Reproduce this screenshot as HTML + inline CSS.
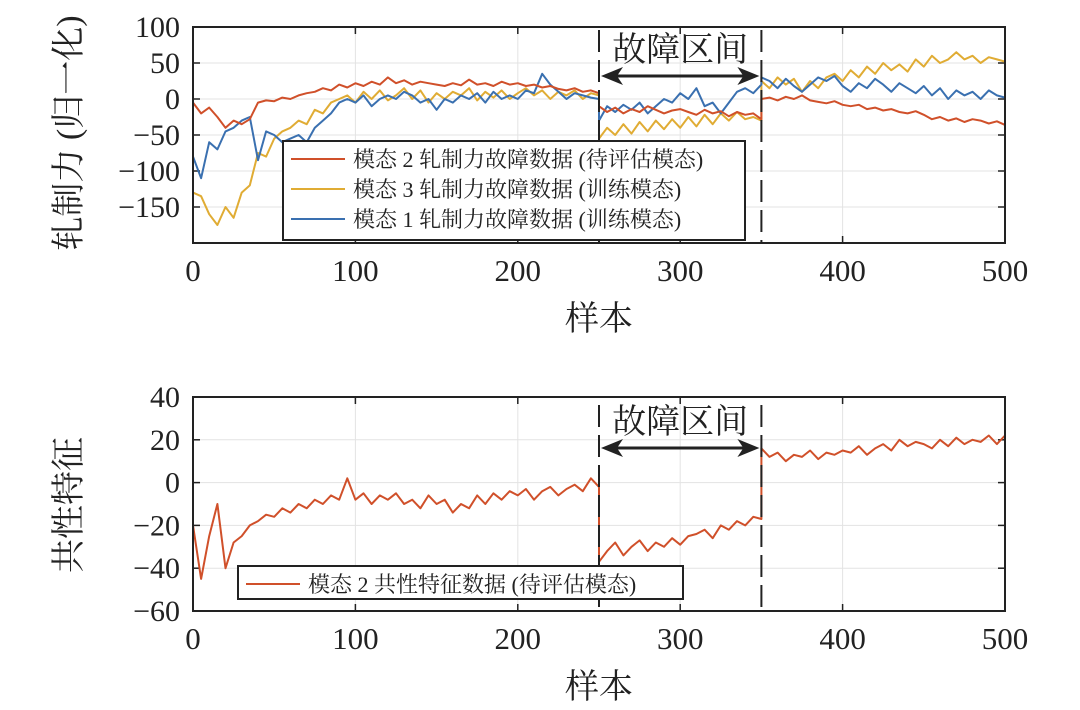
<!DOCTYPE html>
<html><head><meta charset="utf-8"><style>
body{margin:0;background:#fff}
svg text{font-family:"Liberation Serif","Noto Serif CJK SC",serif;fill:#222}
</style></head><body>
<svg id="fig" width="1080" height="705" viewBox="0 0 1080 705" xmlns="http://www.w3.org/2000/svg"></svg>
<script>
// ---- data (step 5 samples) ----
const xTicks=[0,100,200,300,400,500];
const topYTicks=[100,50,0,-50,-100,-150];
const botYTicks=[40,20,0,-20,-40,-60];
const faultBounds=[250,350];
const m2Pre=[-5,-20,-12,-25,-40,-30,-35,-28,-5,-2,-3,2,0,5,8,10,15,12,20,16,22,18,24,20,30,22,26,20,24,22,20,18,22,19,27,20,22,18,24,20,22,18,20,16,18,14,12,15,10,12,8];
const m2Fault=[-10,-18,-12,-20,-14,-18,-10,-15,-20,-16,-14,-18,-22,-15,-20,-17,-24,-18,-22,-20,-28];
const m2Post=[0,2,-2,3,0,5,-2,-4,-6,-3,-8,-10,-8,-14,-12,-16,-14,-18,-20,-17,-22,-28,-25,-30,-27,-32,-28,-30,-34,-31,-36];
const m3Pre=[-130,-135,-160,-175,-150,-165,-130,-120,-75,-80,-55,-45,-40,-30,-35,-15,-20,-5,0,5,-5,10,0,12,-2,5,15,0,12,-5,8,0,10,5,15,-2,10,2,12,0,8,15,5,12,0,10,5,12,0,8,5];
const m3Fault=[-55,-40,-50,-35,-48,-32,-45,-30,-42,-28,-40,-25,-38,-22,-35,-20,-30,-18,-28,-25,-30];
const m3Post=[25,15,30,20,28,10,25,15,30,35,25,40,30,45,35,50,40,48,38,55,45,60,50,55,65,55,60,50,58,55,52];
const m1Pre=[-80,-110,-60,-70,-45,-40,-30,-25,-85,-45,-50,-60,-55,-50,-60,-40,-30,-20,-5,0,-5,5,-10,0,5,0,10,5,-5,0,-15,0,-5,5,0,8,-5,10,0,5,0,12,8,35,20,10,0,8,5,2,0];
const m1Fault=[-30,-10,-18,-8,-15,-5,-20,-10,0,-5,8,0,15,-10,-5,-20,-5,10,15,8,20];
const m1Post=[30,25,15,28,18,10,20,30,25,32,18,10,22,15,28,20,10,22,15,8,18,5,15,0,12,5,10,0,12,5,2];
const cPre=[-20,-45,-25,-10,-40,-28,-25,-20,-18,-15,-16,-12,-14,-10,-12,-8,-10,-6,-8,2,-8,-5,-10,-6,-8,-5,-10,-8,-12,-6,-10,-8,-14,-10,-12,-6,-10,-5,-8,-4,-6,-3,-8,-4,-2,-6,-3,-1,-4,2,-2];
const cFault=[-37,-32,-28,-34,-30,-27,-32,-28,-30,-26,-29,-25,-24,-22,-26,-20,-22,-18,-20,-16,-17];
const cPost=[16,12,14,10,13,12,15,11,14,13,15,14,17,13,16,18,15,20,17,19,18,16,20,17,21,18,20,19,22,18,22];
const STEP=5;
// ---- drawing ----
const NS="http://www.w3.org/2000/svg",svg=document.getElementById('fig');
function el(t,a,p){const e=document.createElementNS(NS,t);for(const k in a)e.setAttribute(k,a[k]);(p||svg).appendChild(e);return e;}
const X0=193,X1=1005;
const xs=v=>X0+(v/500)*(X1-X0);
function makeAxis(name,yTop,yBot,vMax,vMin,yTicks){
  const ys=v=>yTop+(vMax-v)/(vMax-vMin)*(yBot-yTop);
  const g=el('g',{});
  xTicks.forEach(t=>{if(t>0&&t<500){const l=el('line',{x1:xs(t),x2:xs(t),y1:yTop,y2:yBot,stroke:'#e3e3e3','stroke-width':1},g);}
    el('line',{x1:xs(t),x2:xs(t),y1:yBot,y2:yBot-7,stroke:'#222','stroke-width':1.5},g);
    el('line',{x1:xs(t),x2:xs(t),y1:yTop,y2:yTop+7,stroke:'#222','stroke-width':1.5},g);
    const tx=el('text',{x:xs(t),y:yBot+38,'font-size':31,'text-anchor':'middle'},g);tx.textContent=t;
    });
  yTicks.forEach(t=>{if(t<vMax&&t>vMin){const l=el('line',{x1:X0,x2:X1,y1:ys(t),y2:ys(t),stroke:'#e3e3e3','stroke-width':1},g);}
    el('line',{x1:X0,x2:X0+7,y1:ys(t),y2:ys(t),stroke:'#222','stroke-width':1.5},g);
    el('line',{x1:X1,x2:X1-7,y1:ys(t),y2:ys(t),stroke:'#222','stroke-width':1.5},g);
    const tx=el('text',{x:180,y:ys(t)+10,'font-size':30,'text-anchor':'end'},g);tx.textContent=String(t).replace('-','\u2212');
    });
  return ys;
}
function series(name,ys,segs,color,parent){
  const pts=[];let start=0;
  segs.forEach(s=>{s.forEach((v,i)=>pts.push(xs(start+i*STEP).toFixed(1)+','+ys(v).toFixed(1)));start+=(s.length-1)*STEP;});
  const p=el('polyline',{points:pts.join(' '),fill:'none',stroke:color,'stroke-width':2,'stroke-linejoin':'round'},parent);
  
}
const RED='#d0502a',YEL='#e0ac34',BLU='#3a70b0';
function frame(yTop,yBot,name){const r=el('rect',{x:X0,y:yTop,width:X1-X0,height:yBot-yTop,fill:'none',stroke:'#222','stroke-width':2});}
function fault(ys,yTop,yBot,ann,lineTop){
  const g=el('g',{});
  faultBounds.forEach(b=>{const l=el('line',{x1:xs(b),x2:xs(b),y1:lineTop,y2:yBot,stroke:'#222','stroke-width':2,'stroke-dasharray':'22,8'},g);});
  const a=xs(faultBounds[0])+2,b=xs(faultBounds[1])-2;
  el('line',{x1:a+10,x2:b-10,y1:ann,y2:ann,stroke:'#222','stroke-width':3},g);
  el('polygon',{points:`${a},${ann} ${a+22},${ann-9} ${a+16},${ann} ${a+22},${ann+9}`,fill:'#222'},g);
  el('polygon',{points:`${b},${ann} ${b-22},${ann-9} ${b-16},${ann} ${b-22},${ann+9}`,fill:'#222'},g);
  const t=el('text',{x:(a+b)/2,y:ann-15,'font-size':34,'text-anchor':'middle'},g);t.textContent='故障区间';
  
}
function legend(x,y,w,h,items,name){
  const g=el('g',{});
  el('rect',{x,y,width:w,height:h,fill:'#fff',stroke:'#222','stroke-width':2},g);
  items.forEach((it,i)=>{const cy=y+18+i*30;
    el('line',{x1:x+8,x2:x+62,y1:cy,y2:cy,stroke:it[1],'stroke-width':2},g);
    const t=el('text',{x:x+70,y:cy+8,'font-size':22},g);t.textContent=it[0];
    });
}
// top
const ysT=makeAxis('top-axes',27,243,100,-200,topYTicks);
const gT=el('g',{});
series('mode3-line',ysT,[m3Pre,m3Fault,m3Post],YEL,gT);
series('mode1-line',ysT,[m1Pre,m1Fault,m1Post],BLU,gT);
series('mode2-line',ysT,[m2Pre,m2Fault,m2Post],RED,gT);
fault(ysT,27,243,76,30);
legend(283,141,462,99,[['模态 2 轧制力故障数据 (待评估模态)',RED],['模态 3 轧制力故障数据 (训练模态)',YEL],['模态 1 轧制力故障数据 (训练模态)',BLU]],'top-legend');
frame(27,243,'top-axes-frame');
// bottom
const ysB=makeAxis('bottom-axes',397,611,40,-60,botYTicks);
series('common-feature-line',ysB,[cPre,cFault,cPost],RED);
fault(ysB,397,611,448,405);
legend(238,566,445,33,[['模态 2 共性特征数据 (待评估模态)',RED]],'bottom-legend');
frame(397,611,'bottom-axes-frame');
// labels
function lab(txt,x,y,rot,name){const t=el('text',{x,y,'font-size':34,'text-anchor':'middle',transform:rot?`rotate(-90 ${x} ${y})`:''});t.textContent=txt;}
lab('样本',599,330,false,'top-x-axis-title');
lab('样本',599,698,false,'bottom-x-axis-title');
lab('轧制力 (归一化)',80,133,true,'top-y-axis-title');
lab('共性特征',80,505,true,'bottom-y-axis-title');
</script>
</body></html>
